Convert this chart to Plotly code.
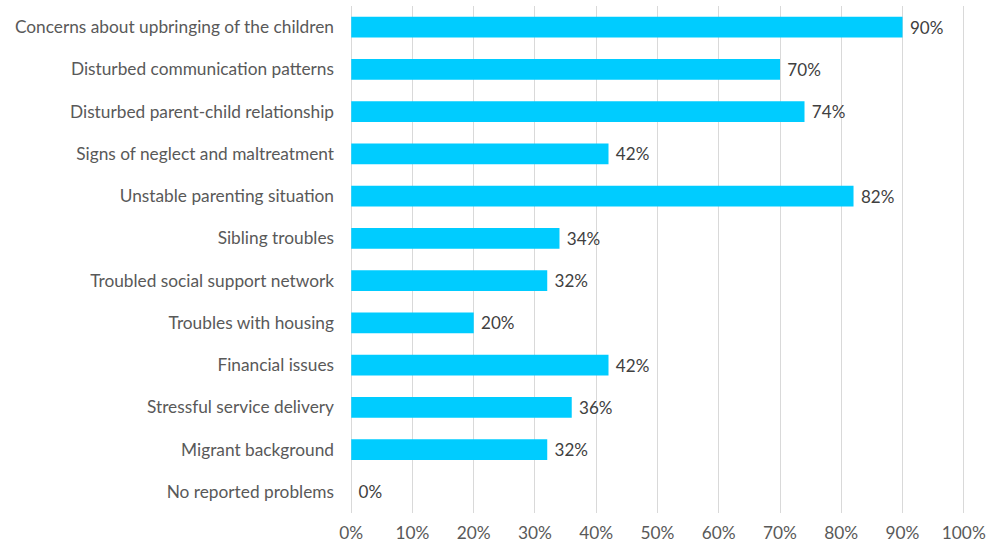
import plotly.graph_objects as go

categories = [
    "Concerns about upbringing of the children",
    "Disturbed communication patterns",
    "Disturbed parent-child relationship",
    "Signs of neglect and maltreatment",
    "Unstable parenting situation",
    "Sibling troubles",
    "Troubled social support network",
    "Troubles with housing",
    "Financial issues",
    "Stressful service delivery",
    "Migrant background",
    "No reported problems",
]
values = [90, 70, 74, 42, 82, 34, 32, 20, 42, 36, 32, 0]
x_ticks = list(range(0, 101, 10))
x_ticklabels = [f"{t}%" for t in x_ticks]

font_family = "Lato, 'Open Sans', sans-serif"
fsize = 17.3

fig = go.Figure(go.Bar(
    y=categories,
    x=values,
    orientation="h",
    marker=dict(color="#00CCFF", line=dict(width=0)),
    text=[f" {v}%" for v in values],
    textposition="outside",
    textfont=dict(family=font_family, size=fsize, color="#404040"),
    cliponaxis=False,
))

fig.update_layout(
    width=986, height=544,
    margin=dict(l=349.5, r=21, t=6, b=31),
    paper_bgcolor="white",
    plot_bgcolor="white",
    bargap=0.51,
    showlegend=False,
    font=dict(family=font_family, size=fsize, color="#595959"),
    xaxis=dict(
        range=[-0.2, 100.2],
        tickvals=x_ticks,
        ticktext=x_ticklabels,
        showgrid=True,
        gridcolor="#D9D9D9",
        gridwidth=1,
        zeroline=False,
        showline=False,
        ticks="",
        automargin=False,
        ticklabeloverflow="allow",
        ticklabelstandoff=8,
        tickfont=dict(size=fsize, color="#595959"),
    ),
    yaxis=dict(
        categoryorder="array",
        categoryarray=categories[::-1],
        showgrid=False,
        zeroline=False,
        showline=False,
        ticks="",
        automargin=False,
        ticklabelstandoff=15,
        tickfont=dict(size=fsize, color="#595959"),
    ),
)

fig.write_html("out.html")
